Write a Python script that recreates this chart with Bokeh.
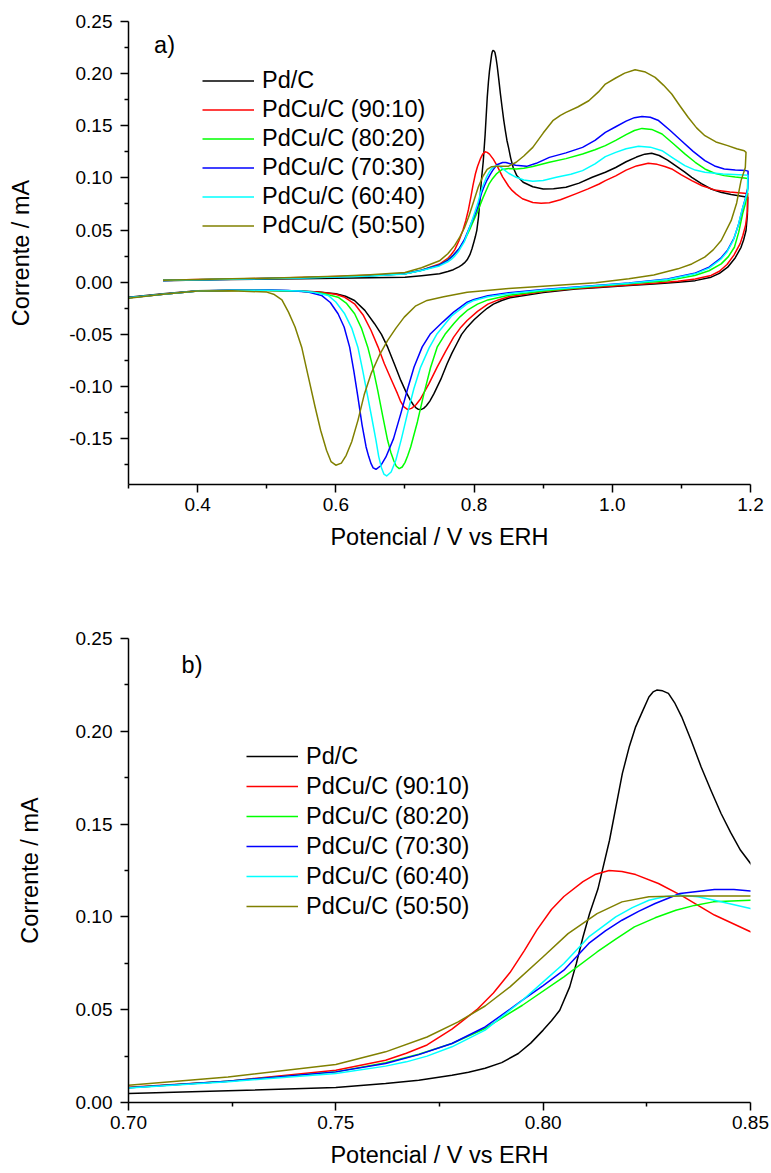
from bokeh.plotting import figure
from bokeh.models import Range1d, FixedTicker, NumeralTickFormatter, Legend, LegendItem, Label
from bokeh.layouts import column
from bokeh.embed import file_html
from bokeh.resources import INLINE

FONT = "Liberation Sans"

series_names = ["Pd/C", "PdCu/C (90:10)", "PdCu/C (80:20)", "PdCu/C (70:30)",
                "PdCu/C (60:40)", "PdCu/C (50:50)"]
series_colors = ["#000000", "#ff0000", "#00ff00", "#0000ff", "#00ffff", "#808000"]

# Each series: anodic sweep (0.35 -> 1.2 V) followed by cathodic sweep (1.2 -> 0.3 V)

# ---- Pd/C (black) ----
pdc_E = [0.35, 0.40, 0.45, 0.50, 0.55, 0.60, 0.65, 0.70, 0.724, 0.750, 0.762, 0.770, 0.778, 0.782,
         0.786, 0.790, 0.794, 0.797, 0.800, 0.802, 0.804, 0.8064, 0.808, 0.8096, 0.8112, 0.8132,
         0.816, 0.8191, 0.8208, 0.8223, 0.824, 0.8255, 0.8265, 0.8274, 0.8288, 0.8302, 0.8318,
         0.8334, 0.8357, 0.8381, 0.8405, 0.8429, 0.8452, 0.8476, 0.850, 0.853, 0.8566, 0.862,
         0.871, 0.885, 0.900, 0.915, 0.933, 0.952, 0.971, 0.990, 1.005, 1.020, 1.035, 1.047,
         1.057, 1.068, 1.080, 1.092, 1.104, 1.115, 1.129, 1.143, 1.157, 1.172, 1.185, 1.196,
         1.1955, 1.1935, 1.190, 1.1863, 1.178, 1.167, 1.155, 1.143, 1.120, 1.095, 1.060, 1.024,
         0.976, 0.947, 0.900, 0.875, 0.852, 0.840, 0.828, 0.819, 0.810, 0.800, 0.790, 0.782,
         0.775, 0.768, 0.761, 0.752, 0.742, 0.736, 0.731, 0.727, 0.723, 0.719, 0.716, 0.712,
         0.708, 0.701, 0.694, 0.685, 0.675, 0.666, 0.656, 0.642, 0.627, 0.614, 0.600, 0.575,
         0.550, 0.500, 0.450, 0.400, 0.350, 0.300]
pdc_I = [0.0015, 0.0021, 0.0026, 0.0030, 0.0034, 0.0038, 0.0042, 0.0048, 0.0063, 0.0081, 0.0102,
         0.0120, 0.0147, 0.0163, 0.0185, 0.0215, 0.0264, 0.0320, 0.0390, 0.0440, 0.0497, 0.0623,
         0.0749, 0.0892, 0.1018, 0.1150, 0.1413, 0.1773, 0.1920, 0.2024, 0.2110, 0.2185, 0.2212,
         0.2222, 0.2218, 0.2204, 0.2150, 0.2078, 0.1950, 0.1808, 0.1680, 0.1557, 0.1455, 0.1359,
         0.1288, 0.1190, 0.1100, 0.1020, 0.0958, 0.0915, 0.0894, 0.0895, 0.0910, 0.0950, 0.1006,
         0.1054, 0.1100, 0.1155, 0.1200, 0.1228, 0.1236, 0.1215, 0.1170, 0.1115, 0.1060, 0.1006,
         0.0945, 0.0894, 0.0862, 0.0840, 0.0826, 0.0815,
         0.0650, 0.0495, 0.0405, 0.0335, 0.0235, 0.0144, 0.0085, 0.0048, 0.0015, 0.0000, -0.0018,
         -0.0032, -0.0054, -0.0065, -0.0100, -0.0125, -0.0150, -0.0175, -0.0210, -0.0250,
         -0.0300, -0.0360, -0.0431, -0.0500, -0.0590, -0.0680, -0.0782, -0.0930, -0.1069,
         -0.1140, -0.1185, -0.1210, -0.1222, -0.1218, -0.1205, -0.1175, -0.1133, -0.1045,
         -0.0942, -0.0790, -0.0623, -0.0500, -0.0398, -0.0270, -0.0175, -0.0135, -0.0110,
         -0.0093, -0.0085, -0.0078, -0.0078, -0.0082, -0.0110, -0.0145]

# ---- PdCu/C (90:10) (red) ----
pdcu9010_E = [0.35, 0.40, 0.45, 0.50, 0.55, 0.60, 0.65, 0.70, 0.724, 0.750, 0.762, 0.767, 0.772,
              0.778, 0.784, 0.788, 0.792, 0.7955, 0.7985, 0.802, 0.805, 0.8096, 0.8125, 0.8159,
              0.819, 0.8223, 0.8278, 0.8334, 0.8413, 0.850, 0.855, 0.861, 0.870, 0.885, 0.897,
              0.909, 0.925, 0.947, 0.965, 0.981, 0.990, 1.005, 1.020, 1.035, 1.052, 1.065, 1.076,
              1.086, 1.100, 1.115, 1.130, 1.148, 1.170, 1.191, 1.196,
              1.1955, 1.193, 1.189, 1.185, 1.176, 1.166, 1.155, 1.143, 1.120, 1.095, 1.060, 1.024,
              0.976, 0.947, 0.900, 0.850, 0.835, 0.820, 0.805, 0.790, 0.780, 0.7705, 0.759, 0.7466,
              0.735, 0.7227, 0.716, 0.7095, 0.7036, 0.6985, 0.6935, 0.6892, 0.680, 0.6702, 0.661,
              0.651, 0.640, 0.627, 0.613, 0.600, 0.575, 0.550, 0.500, 0.450, 0.400, 0.350, 0.300]
pdcu9010_I = [0.0018, 0.0025, 0.0031, 0.0037, 0.0045, 0.0054, 0.0066, 0.0082, 0.0115, 0.0174,
              0.0228, 0.0265, 0.0310, 0.0395, 0.0500, 0.0590, 0.0700, 0.0820, 0.0930, 0.1040,
              0.1110, 0.1190, 0.1228, 0.1250, 0.1245, 0.1228, 0.1180, 0.1115, 0.1010, 0.0920,
              0.0880, 0.0845, 0.0800, 0.0765, 0.0757, 0.0762, 0.0790, 0.0847, 0.0895, 0.0942,
              0.0974, 0.1020, 0.1075, 0.1115, 0.1140, 0.1130, 0.1110, 0.1086, 0.1030, 0.0974,
              0.0925, 0.0885, 0.0865, 0.0853, 0.0850,
              0.0680, 0.0550, 0.0450, 0.0370, 0.0260, 0.0170, 0.0105, 0.0065, 0.0030, 0.0010,
              -0.0010, -0.0027, -0.0048, -0.0060, -0.0090, -0.0140, -0.0170, -0.0210, -0.0280,
              -0.0367, -0.0440, -0.0527, -0.0660, -0.0814, -0.0970, -0.1117, -0.1175, -0.1210,
              -0.1220, -0.1195, -0.1140, -0.1069, -0.0930, -0.0782, -0.0620, -0.0463, -0.0320,
              -0.0207, -0.0145, -0.0115, -0.0095, -0.0088, -0.0080, -0.0080, -0.0085, -0.0115,
              -0.0150]

# ---- PdCu/C (80:20) (green) ----
pdcu8020_E = [0.35, 0.40, 0.45, 0.50, 0.55, 0.60, 0.65, 0.70, 0.724, 0.750, 0.762, 0.770, 0.778,
              0.786, 0.795, 0.805, 0.813, 0.8175, 0.822, 0.827, 0.832, 0.8365, 0.841, 0.850,
              0.861, 0.872, 0.885, 0.909, 0.933, 0.957, 0.975, 0.990, 1.005, 1.020, 1.032, 1.043,
              1.057, 1.072, 1.088, 1.105, 1.120, 1.134, 1.148, 1.162, 1.178, 1.191, 1.196,
              1.1955, 1.1925, 1.1886, 1.183, 1.1767, 1.168, 1.1576, 1.140, 1.1194, 1.080, 1.024,
              0.976, 0.900, 0.850, 0.820, 0.805, 0.790, 0.780, 0.7705, 0.758, 0.7466, 0.737,
              0.7275, 0.718, 0.7083, 0.704, 0.700, 0.696, 0.6917, 0.6875, 0.684, 0.6795, 0.6749,
              0.668, 0.6606, 0.653, 0.6462, 0.637, 0.6272, 0.615, 0.6032, 0.580, 0.550, 0.500,
              0.450, 0.400, 0.350, 0.300]
pdcu8020_I = [0.0018, 0.0024, 0.0030, 0.0036, 0.0043, 0.0051, 0.0062, 0.0080, 0.0115, 0.0165,
              0.0214, 0.0260, 0.0318, 0.0399, 0.0524, 0.0677, 0.0811, 0.0880, 0.0946, 0.0995,
              0.1036, 0.1062, 0.1081, 0.1090, 0.1086, 0.1093, 0.1110, 0.1150, 0.1185, 0.1230,
              0.1270, 0.1310, 0.1360, 0.1415, 0.1455, 0.1475, 0.1465, 0.1421, 0.1330, 0.1230,
              0.1150, 0.1086, 0.1045, 0.1022, 0.1008, 0.1000, 0.0995,
              0.0850, 0.0750, 0.0655, 0.0480, 0.0335, 0.0245, 0.0176, 0.0110, 0.0064, 0.0015,
              -0.0015, -0.0040, -0.0085, -0.0125, -0.0170, -0.0210, -0.0271, -0.0330, -0.0398,
              -0.0500, -0.0623, -0.0820, -0.1069, -0.1340, -0.1580, -0.1665, -0.1730, -0.1772,
              -0.1787, -0.1765, -0.1715, -0.1630, -0.1516, -0.1290, -0.1037, -0.0800, -0.0623,
              -0.0440, -0.0303, -0.0200, -0.0144, -0.0105, -0.0088, -0.0080, -0.0080, -0.0085,
              -0.0115, -0.0150]

# ---- PdCu/C (70:30) (blue) ----
pdcu7030_E = [0.35, 0.40, 0.45, 0.50, 0.55, 0.60, 0.65, 0.70, 0.724, 0.750, 0.762, 0.770, 0.778,
              0.786, 0.795, 0.800, 0.805, 0.811, 0.815, 0.819, 0.823, 0.827, 0.833, 0.8413, 0.846,
              0.850, 0.860, 0.876, 0.890, 0.909, 0.933, 0.957, 0.975, 0.990, 1.005, 1.020, 1.032,
              1.043, 1.055, 1.067, 1.083, 1.100, 1.117, 1.134, 1.148, 1.162, 1.178, 1.1935, 1.1965,
              1.196, 1.1925, 1.189, 1.183, 1.176, 1.167, 1.157, 1.140, 1.119, 1.080, 1.024, 0.976,
              0.900, 0.850, 0.820, 0.800, 0.790, 0.7705, 0.755, 0.737, 0.725, 0.7132, 0.704, 0.694,
              0.6835, 0.6725, 0.665, 0.6581, 0.654, 0.651, 0.6475, 0.6438, 0.638, 0.6319, 0.626,
              0.620, 0.612, 0.6032, 0.592, 0.5793, 0.560, 0.5315, 0.500, 0.450, 0.400, 0.350, 0.300]
pdcu7030_I = [0.0017, 0.0023, 0.0029, 0.0035, 0.0042, 0.0050, 0.0061, 0.0080, 0.0115, 0.0165,
              0.0210, 0.0258, 0.0318, 0.0407, 0.0551, 0.0630, 0.0713, 0.0857, 0.0925, 0.0982,
              0.1030, 0.1072, 0.1126, 0.1148, 0.1148, 0.1140, 0.1122, 0.1111, 0.1140, 0.1197,
              0.1240, 0.1293, 0.1360, 0.1437, 0.1491, 0.1545, 0.1578, 0.1590, 0.1582, 0.1550,
              0.1460, 0.1357, 0.1255, 0.1166, 0.1115, 0.1086, 0.1075, 0.1070, 0.1065,
              0.0900, 0.0800, 0.0720, 0.0560, 0.0420, 0.0310, 0.0230, 0.0145, 0.0085, 0.0030,
              -0.0008, -0.0032, -0.0070, -0.0100, -0.0130, -0.0165, -0.0192, -0.0287, -0.0380,
              -0.0494, -0.0620, -0.0814, -0.1020, -0.1260, -0.1500, -0.1676, -0.1760, -0.1794,
              -0.1780, -0.1740, -0.1670, -0.1580, -0.1370, -0.1100, -0.0850, -0.0623, -0.0430,
              -0.0303, -0.0195, -0.0127, -0.0095, -0.0080, -0.0076, -0.0078, -0.0085, -0.0115,
              -0.0150]

# ---- PdCu/C (60:40) (cyan) ----
pdcu6040_E = [0.35, 0.40, 0.45, 0.50, 0.55, 0.60, 0.65, 0.70, 0.724, 0.750, 0.762, 0.767, 0.772,
              0.778, 0.786, 0.795, 0.800, 0.805, 0.811, 0.8175, 0.8215, 0.8255, 0.8295, 0.8334,
              0.8373, 0.8413, 0.850, 0.861, 0.872, 0.885, 0.900, 0.919, 0.940, 0.957, 0.975, 0.990,
              1.005, 1.020, 1.038, 1.055, 1.072, 1.088, 1.105, 1.120, 1.134, 1.160, 1.191, 1.196,
              1.196, 1.192, 1.188, 1.182, 1.175, 1.166, 1.157, 1.140, 1.120, 1.080, 1.024, 0.976,
              0.900, 0.850, 0.820, 0.800, 0.790, 0.768, 0.7466, 0.735, 0.7227, 0.713, 0.7036,
              0.695, 0.6868, 0.680, 0.6735, 0.6695, 0.666, 0.662, 0.6581, 0.652, 0.6462, 0.639,
              0.6319, 0.623, 0.6128, 0.600, 0.5889, 0.570, 0.550, 0.500, 0.450, 0.400, 0.350,
              0.300]
pdcu6040_I = [0.0017, 0.0023, 0.0029, 0.0035, 0.0041, 0.0049, 0.0059, 0.0078, 0.0112, 0.0156,
              0.0196, 0.0219, 0.0250, 0.0300, 0.0390, 0.0551, 0.0650, 0.0749, 0.0892, 0.1000,
              0.1050, 0.1090, 0.1110, 0.1117, 0.1108, 0.1090, 0.1045, 0.1006, 0.0980, 0.0967,
              0.0975, 0.1006, 0.1035, 0.1070, 0.1135, 0.1204, 0.1245, 0.1280, 0.1303, 0.1295,
              0.1261, 0.1190, 0.1118, 0.1075, 0.1054, 0.1038, 0.1029, 0.1025,
              0.0880, 0.0780, 0.0700, 0.0540, 0.0400, 0.0290, 0.0220, 0.0135, 0.0080, 0.0025,
              -0.0010, -0.0035, -0.0075, -0.0110, -0.0140, -0.0175, -0.0207, -0.0320, -0.0494,
              -0.0630, -0.0814, -0.1020, -0.1260, -0.1500, -0.1708, -0.1820, -0.1858, -0.1840,
              -0.1780, -0.1670, -0.1516, -0.1300, -0.1100, -0.0850, -0.0623, -0.0440, -0.0303,
              -0.0190, -0.0127, -0.0098, -0.0085, -0.0078, -0.0078, -0.0085, -0.0115, -0.0150]

# ---- PdCu/C (50:50) (olive) ----
pdcu5050_E = [0.35, 0.40, 0.45, 0.50, 0.55, 0.60, 0.65, 0.70, 0.724, 0.750, 0.762, 0.772, 0.7795,
              0.786, 0.792, 0.800, 0.806, 0.813, 0.819, 0.8255, 0.8334, 0.850, 0.861, 0.872, 0.885,
              0.900, 0.914, 0.925, 0.933, 0.950, 0.966, 0.980, 0.990, 1.005, 1.018, 1.033, 1.048,
              1.062, 1.074, 1.086, 1.098, 1.110, 1.122, 1.134, 1.150, 1.167, 1.180, 1.191, 1.1935,
              1.1925, 1.1863, 1.180, 1.172, 1.1576, 1.146, 1.1337, 1.115, 1.095, 1.060, 1.024,
              0.976, 0.900, 0.850, 0.790, 0.756, 0.732, 0.715, 0.699, 0.687, 0.675, 0.663, 0.651,
              0.641, 0.632, 0.623, 0.615, 0.608, 0.600, 0.593, 0.5865, 0.578, 0.570, 0.560,
              0.5506, 0.541, 0.5315, 0.522, 0.510, 0.500, 0.450, 0.400, 0.350, 0.300]
pdcu5050_I = [0.0018, 0.0025, 0.0032, 0.0039, 0.0048, 0.0058, 0.0072, 0.0093, 0.0138, 0.0205,
              0.0273, 0.0353, 0.0434, 0.0520, 0.0623, 0.0785, 0.0910, 0.1018, 0.1081, 0.1108,
              0.1113, 0.1113, 0.1150, 0.1210, 0.1293, 0.1430, 0.1549, 0.1600, 0.1628, 0.1680,
              0.1740, 0.1825, 0.1900, 0.1958, 0.2005, 0.2037, 0.2015, 0.1964, 0.1890, 0.1805,
              0.1690, 0.1580, 0.1480, 0.1405, 0.1345, 0.1310, 0.1280, 0.1261, 0.1245,
              0.1100, 0.0974, 0.0760, 0.0590, 0.0400, 0.0310, 0.0240, 0.0175, 0.0128, 0.0070,
              0.0032, -0.0006, -0.0040, -0.0060, -0.0096, -0.0140, -0.0175, -0.0230, -0.0335,
              -0.0440, -0.0558, -0.0700, -0.0877, -0.1080, -0.1325, -0.1530, -0.1660, -0.1735,
              -0.1755, -0.1720, -0.1612, -0.1420, -0.1197, -0.0900, -0.0623, -0.0430, -0.0287,
              -0.0170, -0.0115, -0.0095, -0.0082, -0.0085, -0.0115, -0.0155]

series_E = [pdc_E, pdcu9010_E, pdcu8020_E, pdcu7030_E, pdcu6040_E, pdcu5050_E]
series_I = [pdc_I, pdcu9010_I, pdcu8020_I, pdcu7030_I, pdcu6040_I, pdcu5050_I]

# axis ticks / labels
a_xticks = [0.4, 0.6, 0.8, 1.0, 1.2]
a_xminor = [0.3, 0.5, 0.7, 0.9, 1.1]
a_yticks = [-0.15, -0.10, -0.05, 0.0, 0.05, 0.10, 0.15, 0.20, 0.25]
a_yminor = [-0.175, -0.125, -0.075, -0.025, 0.025, 0.075, 0.125, 0.175, 0.225]
b_xticks = [0.70, 0.75, 0.80, 0.85]
b_xminor = [0.725, 0.775, 0.825]
b_yticks = [0.0, 0.05, 0.10, 0.15, 0.20, 0.25]
b_yminor = [0.025, 0.075, 0.125, 0.175, 0.225]

x_label = "Potencial / V vs ERH"
y_label = "Corrente / mA"


def style_axes(p, xt, xm, yt, ym, xfmt, yfmt, ystand):
    p.xgrid.visible = False
    p.ygrid.visible = False
    p.outline_line_color = None
    p.xaxis.ticker = FixedTicker(ticks=xt, minor_ticks=xm)
    p.yaxis.ticker = FixedTicker(ticks=yt, minor_ticks=ym)
    p.xaxis.formatter = NumeralTickFormatter(format=xfmt)
    p.yaxis.formatter = NumeralTickFormatter(format=yfmt)
    p.xaxis.axis_label = x_label
    p.yaxis.axis_label = y_label
    for ax in (p.xaxis, p.yaxis):
        ax.axis_line_width = 1.5
        ax.axis_line_color = "black"
        ax.major_tick_line_width = 1.5
        ax.minor_tick_line_width = 1.5
        ax.major_tick_line_color = "black"
        ax.minor_tick_line_color = "black"
        ax.major_tick_in = 0
        ax.major_tick_out = 8
        ax.minor_tick_in = 0
        ax.minor_tick_out = 4
        ax.major_label_text_font = FONT
        ax.major_label_text_font_size = "19px"
        ax.major_label_text_color = "black"
        ax.axis_label_text_font = FONT
        ax.axis_label_text_font_size = "23.5px"
        ax.axis_label_text_font_style = "normal"
        ax.axis_label_text_color = "black"
    p.xaxis.major_label_standoff = 5
    p.yaxis.major_label_standoff = 8
    p.xaxis.axis_label_standoff = 10
    p.yaxis.axis_label_standoff = ystand


def add_legend(p, renderers, loc, row_h):
    items = [LegendItem(label=n, renderers=[r]) for n, r in zip(series_names, renderers)]
    leg = Legend(items=items, location=loc, border_line_color=None,
                 background_fill_alpha=0, padding=0, margin=0, spacing=0,
                 label_height=row_h, glyph_height=row_h, glyph_width=52, label_standoff=8,
                 label_text_font=FONT, label_text_font_size="23.5px", label_text_color="black")
    p.add_layout(leg)


# ---------- panel a ----------
p1 = figure(width=771, height=600, output_backend="svg", toolbar_location=None,
            x_range=Range1d(0.3, 1.2), y_range=Range1d(-0.194, 0.25),
            min_border_left=128, min_border_right=16, min_border_top=21, min_border_bottom=116,
            background_fill_color="white", border_fill_color="white")
style_axes(p1, a_xticks, a_xminor, a_yticks, a_yminor, "0.0", "0.00", 32)
r1 = [p1.line(E, I, line_color=c, line_width=1.5, line_join="round")
      for E, I, c in zip(series_E, series_I, series_colors)]
add_legend(p1, r1, (74, 244), 29)
p1.add_layout(Label(x=0.337, y=0.2277, text="a)", text_font=FONT, text_font_size="23.5px",
                    text_baseline="alphabetic", text_color="black"))

# ---------- panel b ----------
p2 = figure(width=771, height=573, output_backend="svg", toolbar_location=None,
            x_range=Range1d(0.70, 0.85), y_range=Range1d(0.0, 0.25),
            min_border_left=119, min_border_right=21, min_border_top=38, min_border_bottom=71,
            background_fill_color="white", border_fill_color="white")
style_axes(p2, b_xticks, b_xminor, b_yticks, b_yminor, "0.00", "0.00", 30)
r2 = [p2.line(E, I, line_color=c, line_width=1.5, line_join="round")
      for E, I, c in zip(series_E, series_I, series_colors)]
add_legend(p2, r2, (118, 181), 30)
p2.add_layout(Label(x=0.7128, y=0.2356, text="b)", text_font=FONT, text_font_size="23.5px",
                    text_baseline="alphabetic", text_color="black"))

layout = column(p1, p2, spacing=0)
open("out.html", "w").write(file_html(layout, INLINE))
